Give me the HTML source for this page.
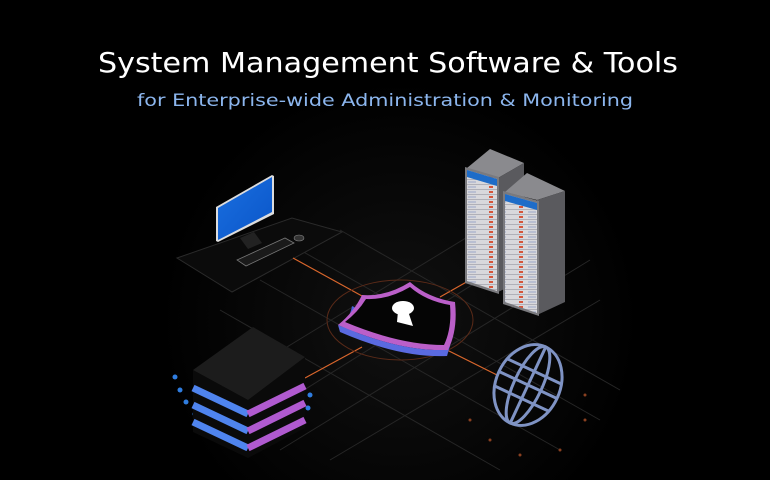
<!DOCTYPE html>
<html><head><meta charset="utf-8"><style>
html,body{margin:0;padding:0;background:#000;width:770px;height:480px;overflow:hidden}
</style></head><body>
<svg width="770" height="480" viewBox="0 0 770 480" xmlns="http://www.w3.org/2000/svg">
<defs>
<radialGradient id="glow" cx="400" cy="320" r="240" gradientUnits="userSpaceOnUse">
<stop offset="0" stop-color="#111"/><stop offset="1" stop-color="#000"/></radialGradient>
<linearGradient id="scr" x1="0" y1="0" x2="1" y2="1"><stop offset="0" stop-color="#1a6fe0"/><stop offset="1" stop-color="#0a55c8"/></linearGradient>
<pattern id="rack" width="30" height="5" patternUnits="userSpaceOnUse">
<rect width="30" height="5" fill="#d8d8dc"/><rect x="0" y="4" width="30" height="1" fill="#b0b0b8"/>
<rect x="9" y="1" width="4" height="2" fill="#d5553a"/><rect x="18" y="1.5" width="8" height="1" fill="#9aa6c8"/></pattern>
</defs>
<rect width="770" height="480" fill="#000"/>
<rect width="770" height="480" fill="url(#glow)"/>
<g stroke="#262626" stroke-width="1">
<line x1="240" y1="430" x2="560" y2="230"/><line x1="280" y1="450" x2="590" y2="260"/>
<line x1="200" y1="400" x2="520" y2="205"/><line x1="330" y1="460" x2="600" y2="300"/>
<line x1="300" y1="250" x2="600" y2="420"/><line x1="260" y1="280" x2="560" y2="450"/>
<line x1="340" y1="230" x2="620" y2="390"/><line x1="220" y1="310" x2="500" y2="470"/>
</g>
<polygon points="177,258 292,218 342,232 232,292" fill="#0b0b0b" stroke="#2a2a2a"/>
<g stroke="#d9662c" stroke-width="1.2">
<line x1="293" y1="258" x2="362" y2="296"/><line x1="440" y1="297" x2="500" y2="263"/>
<line x1="305" y1="378" x2="362" y2="347"/><line x1="447" y1="350" x2="497" y2="375"/>
</g>
<ellipse cx="400" cy="320" rx="73" ry="40" fill="none" stroke="#5a2a18" stroke-width="1"/>
<polygon points="240,238 254,232 262,243 248,249" fill="#222"/>
<polygon points="216,207 272,175 274,176 274,214 218,242 216,241" fill="#ddd"/>
<polygon points="218,208 272,177 272,212 218,240" fill="url(#scr)"/>
<polygon points="237,260 285,238 294,243 246,266" fill="#1a1a1a" stroke="#777" stroke-width="0.8"/>
<ellipse cx="299" cy="238" rx="5" ry="3" fill="#333" stroke="#888" stroke-width="0.6"/>
<polygon points="467,168 490,149 524,163 498,178" fill="#8a8a8e"/>
<polygon points="498,178 524,163 524,280 498,292" fill="#5a5a5e"/>
<polygon points="465,167 499,177 499,294 465,283" fill="#7a7a7e"/>
<polygon points="467,170 497,179 497,291 467,281" fill="url(#rack)"/>
<polygon points="467,170 497,179 497,186 467,177" fill="#1e6cc8"/>
<polygon points="505,192 527,173 565,191 537,200" fill="#8a8a8e"/>
<polygon points="537,200 565,191 565,302 537,315" fill="#5a5a5e"/>
<polygon points="503,191 539,201 539,316 503,304" fill="#7a7a7e"/>
<polygon points="505,194 537,203 537,313 505,302" fill="url(#rack)"/>
<polygon points="505,194 537,203 537,210 505,201" fill="#1e6cc8"/>
<path d="M340,330 Q350,318 352,306 L447,356 L450,346 Z" fill="#4a62d8"/>
<path d="M362,295 Q386,297 410,282 Q428,298 455,302 Q458,330 448,350 Q400,352 338,325 Q354,312 362,295 Z" fill="#bb5fc9"/>
<path d="M366,299 Q388,300 410,287 Q426,301 450,305 Q452,328 444,345 Q400,345 345,322 Q358,312 366,299 Z" fill="#050505"/>
<path d="M338,325 Q400,352 448,350 L447,356 Q400,358 340,332 Z" fill="#5a6ae0"/>
<ellipse cx="403" cy="308" rx="11" ry="7" fill="#fff"/>
<polygon points="398,311 408,311 413,326 397,322" fill="#fff"/>
<g fill="#2f7de0">
<circle cx="180" cy="390" r="2.5"/><circle cx="186" cy="402" r="2.5"/><circle cx="195" cy="414" r="2.5"/><circle cx="207" cy="423" r="2.5"/><circle cx="222" cy="430" r="2.5"/><circle cx="238" cy="436" r="2.5"/>
<circle cx="310" cy="395" r="2.5"/><circle cx="308" cy="408" r="2.5"/><circle cx="302" cy="420" r="2.5"/><circle cx="290" cy="430" r="2.5"/><circle cx="276" cy="438" r="2.5"/><circle cx="175" cy="377" r="2.5"/>
</g>
<polygon points="193,370 193,432 248,458 305,428 305,357 248,400" fill="#0a0a0a"/>
<g stroke-width="7" fill="none">
<polyline points="193,388 248,414" stroke="#4f84ee"/><polyline points="248,414 305,386" stroke="#b05ad0"/>
<polyline points="193,405 248,431" stroke="#4f84ee"/><polyline points="248,431 305,403" stroke="#b05ad0"/>
<polyline points="193,422 248,448" stroke="#4f84ee"/><polyline points="248,448 305,420" stroke="#b05ad0"/>
</g>
<polygon points="193,370 253,327 305,357 248,400" fill="#1c1c1c"/>
<g fill="#8a4020"><circle cx="470" cy="420" r="1.5"/><circle cx="490" cy="440" r="1.5"/><circle cx="520" cy="455" r="1.5"/><circle cx="560" cy="450" r="1.5"/><circle cx="585" cy="420" r="1.5"/><circle cx="585" cy="395" r="1.5"/></g>
<g transform="rotate(25 528 385)" fill="none" stroke="#7f93c4" stroke-width="3">
<ellipse cx="528" cy="385" rx="32" ry="42"/>
<ellipse cx="528" cy="385" rx="14" ry="42"/>
<line x1="528" y1="343" x2="528" y2="427"/>
<line x1="498" y1="370" x2="558" y2="370"/><line x1="496" y1="385" x2="560" y2="385"/><line x1="498" y1="400" x2="558" y2="400"/>
</g>
<text x="388" y="72" text-anchor="middle" font-family="DejaVu Sans, sans-serif" font-size="28" fill="#fff" textLength="580" lengthAdjust="spacingAndGlyphs">System Management Software &amp; Tools</text>
<text x="385" y="106" text-anchor="middle" font-family="DejaVu Sans, sans-serif" font-size="17" fill="#8cb6ee" textLength="496" lengthAdjust="spacingAndGlyphs">for Enterprise-wide Administration &amp; Monitoring</text>
</svg>
</body></html>
